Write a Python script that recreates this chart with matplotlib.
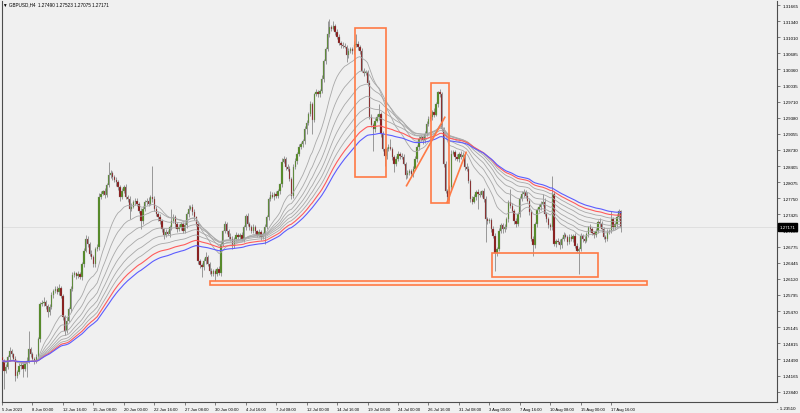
import matplotlib
matplotlib.use("Agg")
import matplotlib.pyplot as plt
import matplotlib.transforms as mtransforms
from matplotlib.patches import Rectangle
import numpy as np
import pandas as pd

plt.rcParams["font.family"] = ["Liberation Sans", "DejaVu Sans"]

# GBPUSD H4, bar 0 = 5 Jun 2023 08:00, one row = 16 bars
close = [
    1.2446, 1.2426, 1.2434, 1.2454, 1.2466, 1.2460, 1.2450, 1.2416, 1.2424, 1.2436, 1.2438, 1.2430, 1.2440, 1.2446, 1.2470, 1.2460,
    1.2450, 1.2446, 1.2454, 1.2490, 1.2561, 1.2563, 1.2565, 1.2557, 1.2545, 1.2555, 1.2580, 1.2588, 1.2592, 1.2586, 1.2594, 1.2578,
    1.2535, 1.2507, 1.2527, 1.2551, 1.2592, 1.2620, 1.2624, 1.2618, 1.2622, 1.2616, 1.2642, 1.2669, 1.2693, 1.2683, 1.2663, 1.2656,
    1.2642, 1.2673, 1.2677, 1.2778, 1.2784, 1.2790, 1.2782, 1.2802, 1.2822, 1.2826, 1.2818, 1.2812, 1.2808, 1.2798, 1.2778, 1.2790,
    1.2798, 1.2778, 1.2774, 1.2754, 1.2758, 1.2768, 1.2770, 1.2764, 1.2750, 1.2729, 1.2754, 1.2768, 1.2770, 1.2764, 1.2778, 1.2774,
    1.2754, 1.2743, 1.2737, 1.2729, 1.2713, 1.2701, 1.2707, 1.2703, 1.2717, 1.2729, 1.2737, 1.2723, 1.2713, 1.2717, 1.2723, 1.2709,
    1.2721, 1.2743, 1.2754, 1.2758, 1.2748, 1.2737, 1.2723, 1.2648, 1.2640, 1.2636, 1.2648, 1.2656, 1.2642, 1.2628, 1.2622, 1.2628,
    1.2622, 1.2632, 1.2624, 1.2683, 1.2709, 1.2723, 1.2709, 1.2697, 1.2693, 1.2679, 1.2693, 1.2701, 1.2697, 1.2701, 1.2693, 1.2717,
    1.2739, 1.2723, 1.2717, 1.2709, 1.2717, 1.2709, 1.2701, 1.2707, 1.2697, 1.2703, 1.2717, 1.2737, 1.2774, 1.2782, 1.2778, 1.2784,
    1.2780, 1.2790, 1.2804, 1.2849, 1.2855, 1.2839, 1.2835, 1.2814, 1.2780, 1.2839, 1.2851, 1.2865, 1.2879, 1.2885, 1.2891, 1.2915,
    1.2928, 1.2946, 1.2966, 1.2934, 1.2986, 1.2990, 1.2986, 1.2992, 1.3017, 1.3053, 1.3077, 1.3108, 1.3122, 1.3118, 1.3124, 1.3112,
    1.3102, 1.3090, 1.3086, 1.3084, 1.3082, 1.3065, 1.3073, 1.3077, 1.3073, 1.3086, 1.3088, 1.3082, 1.3073, 1.3033, 1.3029, 1.3031,
    1.3009, 1.2940, 1.2924, 1.2915, 1.2932, 1.2940, 1.2946, 1.2905, 1.2875, 1.2861, 1.2875, 1.2879, 1.2875, 1.2859, 1.2845, 1.2855,
    1.2865, 1.2861, 1.2859, 1.2845, 1.2822, 1.2826, 1.2830, 1.2824, 1.2835, 1.2855, 1.2879, 1.2895, 1.2899, 1.2893, 1.2905, 1.2926,
    1.2936, 1.2940, 1.2950, 1.2944, 1.2966, 1.2990, 1.2986, 1.2915, 1.2845, 1.2790, 1.2778, 1.2798, 1.2865, 1.2869, 1.2859, 1.2855,
    1.2865, 1.2859, 1.2863, 1.2839, 1.2835, 1.2810, 1.2774, 1.2768, 1.2778, 1.2788, 1.2784, 1.2782, 1.2790, 1.2774, 1.2733, 1.2729,
    1.2731, 1.2713, 1.2699, 1.2665, 1.2673, 1.2709, 1.2721, 1.2713, 1.2717, 1.2733, 1.2768, 1.2760, 1.2750, 1.2729, 1.2723, 1.2743,
    1.2774, 1.2784, 1.2788, 1.2780, 1.2770, 1.2748, 1.2693, 1.2681, 1.2723, 1.2752, 1.2758, 1.2764, 1.2768, 1.2743, 1.2733, 1.2721,
    1.2717, 1.2784, 1.2683, 1.2689, 1.2687, 1.2681, 1.2693, 1.2701, 1.2697, 1.2687, 1.2697, 1.2693, 1.2699, 1.2679, 1.2669, 1.2673,
    1.2699, 1.2693, 1.2689, 1.2703, 1.2717, 1.2713, 1.2705, 1.2701, 1.2709, 1.2727, 1.2723, 1.2713, 1.2697, 1.2693, 1.2707, 1.2709,
    1.2733, 1.2717, 1.2723, 1.2737, 1.2749, 1.27171,
]
first_open = 1.2454
last_open = 1.27490

# wick lengths in pips above / below the body
upper_wick = [
    5, 4, 6, 5, 8, 5, 3, 6, 4, 5, 6, 4, 5, 7, 37, 5,
    5, 3, 6, 5, 4, 7, 10, 5, 4, 6, 5, 3, 6, 5, 8, 4,
    4, 5, 7, 4, 5, 6, 5, 3, 6, 5, 4, 6, 8, 5, 4, 7,
    5, 4, 6, 8, 5, 3, 6, 5, 27, 6, 5, 4, 7, 5, 4, 6,
    5, 6, 4, 5, 7, 4, 5, 6, 3, 5, 6, 4, 5, 7, 4, 63,
    6, 5, 4, 6, 5, 3, 6, 5, 4, 25, 6, 5, 4, 7, 5, 4,
    6, 5, 8, 4, 6, 5, 3, 6, 5, 4, 7, 10, 5, 4, 6, 5,
    5, 4, 6, 5, 3, 6, 5, 4, 7, 5, 4, 6, 5, 3, 6, 5,
    4, 6, 5, 4, 7, 5, 3, 6, 5, 4, 6, 5, 4, 7, 5, 4,
    6, 5, 3, 7, 5, 4, 6, 5, 4, 6, 5, 3, 6, 5, 4, 7,
    5, 4, 6, 5, 3, 6, 5, 4, 7, 5, 4, 26, 16, 5, 10, 5,
    6, 5, 4, 6, 5, 3, 6, 5, 4, 7, 20, 5, 4, 6, 5, 4,
    4, 6, 5, 3, 6, 5, 20, 4, 7, 5, 4, 6, 16, 5, 3, 6,
    5, 4, 6, 5, 3, 7, 5, 4, 6, 5, 4, 6, 5, 3, 6, 5,
    6, 5, 4, 7, 5, 3, 6, 5, 4, 6, 5, 4, 7, 5, 3, 6,
    4, 6, 5, 3, 7, 5, 4, 6, 5, 4, 6, 5, 3, 6, 5, 4,
    5, 4, 6, 5, 3, 7, 5, 4, 6, 5, 4, 26, 5, 3, 6, 5,
    6, 5, 6, 4, 7, 5, 3, 6, 5, 4, 6, 5, 16, 7, 5, 4,
    4, 36, 5, 3, 6, 5, 4, 7, 5, 4, 6, 5, 3, 6, 5, 4,
    5, 4, 6, 5, 3, 7, 5, 4, 6, 5, 8, 6, 5, 3, 6, 5,
    17, 5, 4, 6, 5, 3,
]
lower_wick = [
    6, 37, 5, 4, 7, 5, 3, 10, 5, 4, 6, 16, 5, 26, 4, 6,
    5, 7, 4, 5, 6, 3, 5, 6, 10, 5, 4, 7, 5, 4, 6, 5,
    6, 8, 5, 3, 6, 5, 4, 7, 5, 4, 6, 5, 3, 6, 5, 4,
    6, 5, 4, 7, 5, 3, 6, 5, 4, 6, 5, 4, 7, 5, 8, 5,
    4, 5, 7, 21, 5, 3, 6, 5, 4, 16, 5, 4, 6, 5, 3, 6,
    5, 4, 7, 5, 6, 8, 5, 3, 6, 5, 4, 7, 5, 4, 6, 5,
    4, 6, 5, 3, 7, 5, 4, 6, 5, 20, 6, 5, 3, 7, 5, 4,
    14, 5, 4, 6, 5, 3, 7, 5, 4, 6, 5, 4, 6, 5, 3, 7,
    5, 4, 6, 5, 3, 7, 5, 4, 6, 5, 20, 4, 6, 5, 3, 7,
    5, 4, 7, 5, 3, 6, 5, 4, 7, 5, 4, 6, 5, 3, 6, 5,
    10, 5, 4, 29, 5, 3, 6, 5, 4, 7, 5, 4, 6, 5, 3, 6,
    5, 4, 7, 5, 3, 14, 5, 4, 6, 5, 4, 7, 5, 3, 6, 5,
    6, 5, 4, 44, 5, 3, 6, 5, 4, 20, 6, 5, 3, 7, 17, 5,
    4, 6, 5, 3, 7, 5, 4, 6, 5, 3, 6, 5, 4, 7, 5, 4,
    5, 4, 7, 5, 3, 6, 5, 4, 6, 5, 10, 6, 5, 3, 7, 5,
    6, 5, 3, 6, 5, 4, 7, 5, 3, 6, 30, 5, 4, 6, 46, 5,
    4, 6, 5, 37, 6, 5, 3, 7, 5, 4, 6, 5, 3, 6, 5, 4,
    5, 4, 7, 5, 3, 6, 5, 22, 6, 5, 4, 7, 5, 3, 6, 5,
    6, 5, 4, 7, 5, 8, 6, 5, 3, 6, 5, 4, 7, 5, 3, 47,
    4, 6, 5, 3, 7, 5, 4, 6, 5, 3, 6, 5, 4, 7, 5, 4,
    5, 6, 4, 5, 6, 10,
]

x_labels = ["5 Jun 2023", "8 Jun 00:00", "12 Jun 16:00", "15 Jun 08:00", "20 Jun 00:00",
            "22 Jun 16:00", "27 Jun 08:00", "30 Jun 00:00", "4 Jul 16:00", "7 Jul 08:00",
            "12 Jul 00:00", "14 Jul 16:00", "19 Jul 08:00", "24 Jul 00:00", "26 Jul 16:00",
            "31 Jul 08:00", "3 Aug 00:00", "7 Aug 16:00", "10 Aug 08:00", "15 Aug 00:00",
            "17 Aug 16:00"]
bars_per_label = 16

y_labels = [1.31665, 1.31340, 1.31010, 1.30685, 1.30360, 1.30035, 1.29710, 1.29380,
            1.29055, 1.28730, 1.28405, 1.28075, 1.27750, 1.27425, 1.27100, 1.26775,
            1.26445, 1.26120, 1.25795, 1.25470, 1.25145, 1.24815, 1.24490, 1.24165,
            1.23840, 1.23510]

grey_periods = [20, 30, 40, 50, 60, 70]
red_period = 80
blue_period = 90

# drawn objects: (bar from, bar to, price low, price high)
boxes = [(185.4, 201.5, 1.28177, 1.31193),
         (225.4, 234.7, 1.27657, 1.30080),
         (257.4, 312.9, 1.26153, 1.26645)]
support_band = (109.3, 338.8, 1.25991, 1.26084)
trend_lines = [((212.5, 1.28007), (232.6, 1.29392)),
               ((233.8, 1.27671), (243.8, 1.28683))]

title = "GBPUSD,H4  1.27490 1.27523 1.27075 1.27171"

# ---------------------------------------------------------------
c = np.array(close)
o = np.concatenate([[first_open], c[:-1]])
o[-1] = last_open
hi = np.maximum(o, c) + np.array(upper_wick) / 10000.0
lo = np.minimum(o, c) - np.array(lower_wick) / 10000.0
idx = np.arange(len(c))

bg = "#f0f0f0"
fig = plt.figure(figsize=(8.0, 4.14), dpi=100, facecolor=bg)
ax = fig.add_axes([2 / 800, 11 / 414, 775 / 800, 401 / 414])
ax.set_facecolor(bg)

ymin, ymax = 1.23629, 1.31746
ax.set_xlim(0.52, 407.1)
ax.set_ylim(ymin, ymax)

# current price line
ax.axhline(c[-1], color="#dcdcdc", lw=0.6, zorder=1)

# candles
up = c >= o
ax.vlines(idx, lo, hi, color="#8a8a8a", lw=0.6, zorder=2)
body = np.where(np.abs(c - o) < 0.00004, 0.00004, c - o)
ax.bar(idx[up], body[up], bottom=o[up], width=0.7, color="#4f8a1c",
       edgecolor="#8a8a8a", linewidth=0.2, zorder=3)
ax.bar(idx[~up], body[~up], bottom=o[~up], width=0.7, color="#8b1212",
       edgecolor="#8a8a8a", linewidth=0.2, zorder=3)

# moving average ribbon
s = pd.Series(c)
for p in grey_periods:
    ax.plot(idx, s.ewm(span=p, adjust=False).mean(), color="#a8a8a8", lw=0.6, zorder=4)
ax.plot(idx, s.ewm(span=red_period, adjust=False).mean(), color="#ff5c5c", lw=0.8, zorder=5)
ax.plot(idx, s.ewm(span=blue_period, adjust=False).mean(), color="#5c5cff", lw=0.8, zorder=5)

# drawings
orange = "#ff7a45"
for x0, x1, y0, y1 in boxes:
    ax.add_patch(Rectangle((x0, y0), x1 - x0, y1 - y0, fill=False,
                           edgecolor=orange, lw=1.2, zorder=6))
x0, x1, y0, y1 = support_band
ax.add_patch(Rectangle((x0, y0), x1 - x0, y1 - y0, facecolor="#fbe6dc",
                       edgecolor=orange, lw=1.2, zorder=6))
for (xa, ya), (xb, yb) in trend_lines:
    ax.plot([xa, xb], [ya, yb], color=orange, lw=1.2, zorder=6)

# axes styling
for side in ["left", "bottom", "right"]:
    ax.spines[side].set_color("#4d4d4d")
    ax.spines[side].set_linewidth(0.8)
ax.spines["top"].set_visible(False)

fs = 3.0
ax.set_xticks(np.arange(len(x_labels)) * bars_per_label)
ax.set_xticklabels(x_labels, fontsize=fs, ha="left")
ax.tick_params(axis="x", length=2.5, width=0.5, pad=0.8, color="#4d4d4d")

ax.yaxis.tick_right()
shown = [v for v in y_labels if v > ymin]
ax.set_yticks(shown)
ax.set_yticklabels([f"{v:.5f}" for v in shown], fontsize=3.2)
ax.tick_params(axis="y", length=2.5, width=0.5, pad=1.5, color="#4d4d4d")
trans = mtransforms.blended_transform_factory(ax.transAxes, ax.transData)
ax.text(1.0, y_labels[-1], "- " + f"{y_labels[-1]:.5f}", transform=trans, fontsize=3.2,
        va="center", ha="left", clip_on=False)

# current price box
ax.text(1.003, c[-1], f"{c[-1]:.5f}", transform=trans, fontsize=3.2, color="white",
        va="center", ha="left", clip_on=False, zorder=10,
        bbox=dict(boxstyle="square,pad=0.35", facecolor="black", edgecolor="black"))

fig.text(3 / 800, 1 - 5 / 414, "\u25bc " + title, fontsize=3.3, va="center", ha="left")

fig.savefig("out.png", dpi=100, facecolor=bg)
